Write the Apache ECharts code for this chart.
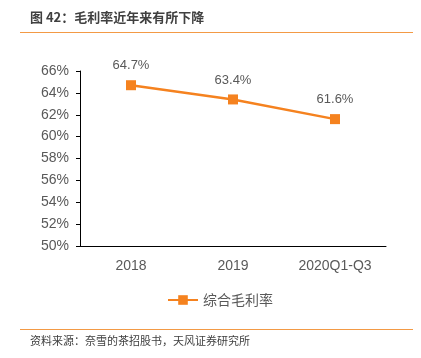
<!DOCTYPE html>
<html><head><meta charset="utf-8">
<script src="https://cdn.jsdelivr.net/npm/echarts@6/dist/echarts.min.js"></script>
<style>html,body{margin:0;padding:0;background:#fff}#c{width:421px;height:358px}</style>
</head><body><div id="c"></div>
<script>
var categories = ['2018', '2019', '2020Q1-Q3'];
var grossMargin = [64.7, 63.4, 61.6];
var seriesName = '综合毛利率';
var titleText = '图 42：毛利率近年来有所下降';
var sourceText = '资料来源：奈雪的茶招股书，天风证券研究所';
var orange = '#F5821F';
var chart = echarts.init(document.getElementById('c'));
chart.setOption({
  animation: false,
  graphic: [
    {type:'text', left: 30, top: 11, style:{text: titleText, font:'bold 13px "Noto Sans CJK SC"', fill:'#404040'}},
    {type:'line', shape:{x1:20,y1:32.5,x2:413,y2:32.5}, style:{stroke:'#F39A45', lineWidth:1}},
    {type:'line', shape:{x1:20,y1:329.5,x2:413,y2:329.5}, style:{stroke:'#F39A45', lineWidth:1}},
    {type:'text', left: 30, top: 335, style:{text: sourceText, font:'11px "Noto Sans CJK SC"', fill:'#404040'}}
  ],
  grid: {left: 80, right: 35, top: 71, bottom: 112},
  legend: {data:[seriesName], top: 288, left: 162, itemWidth: 30, itemHeight: 12, itemGap: 6,
    textStyle:{fontSize:14, color:'#595959', fontFamily:'"Noto Sans CJK SC"'}},
  xAxis: {type:'category', data: categories,
    axisLine:{lineStyle:{color:'#000', width:1}}, axisTick:{show:false},
    axisLabel:{color:'#595959', fontSize:14, margin:13, fontFamily:'Liberation Sans'}},
  yAxis: {type:'value', min:50, max:66, interval:2,
    axisLine:{show:true, lineStyle:{color:'#000', width:1}},
    axisTick:{show:true, length:4, lineStyle:{color:'#000'}},
    splitLine:{show:false},
    axisLabel:{color:'#595959', fontSize:14, margin:11, fontFamily:'Liberation Sans', formatter:'{value}%'}},
  series: [{
    name: seriesName, type:'line', data: grossMargin,
    symbol:'rect', symbolSize: 10,
    itemStyle:{color: orange}, lineStyle:{color: orange, width: 2.5},
    label:{show:true, position:'top', distance: 8, formatter: function(p){return p.value.toFixed(1)+'%';},
      color:'#595959', fontSize:13, fontFamily:'Liberation Sans'}
  }]
});
</script></body></html>
